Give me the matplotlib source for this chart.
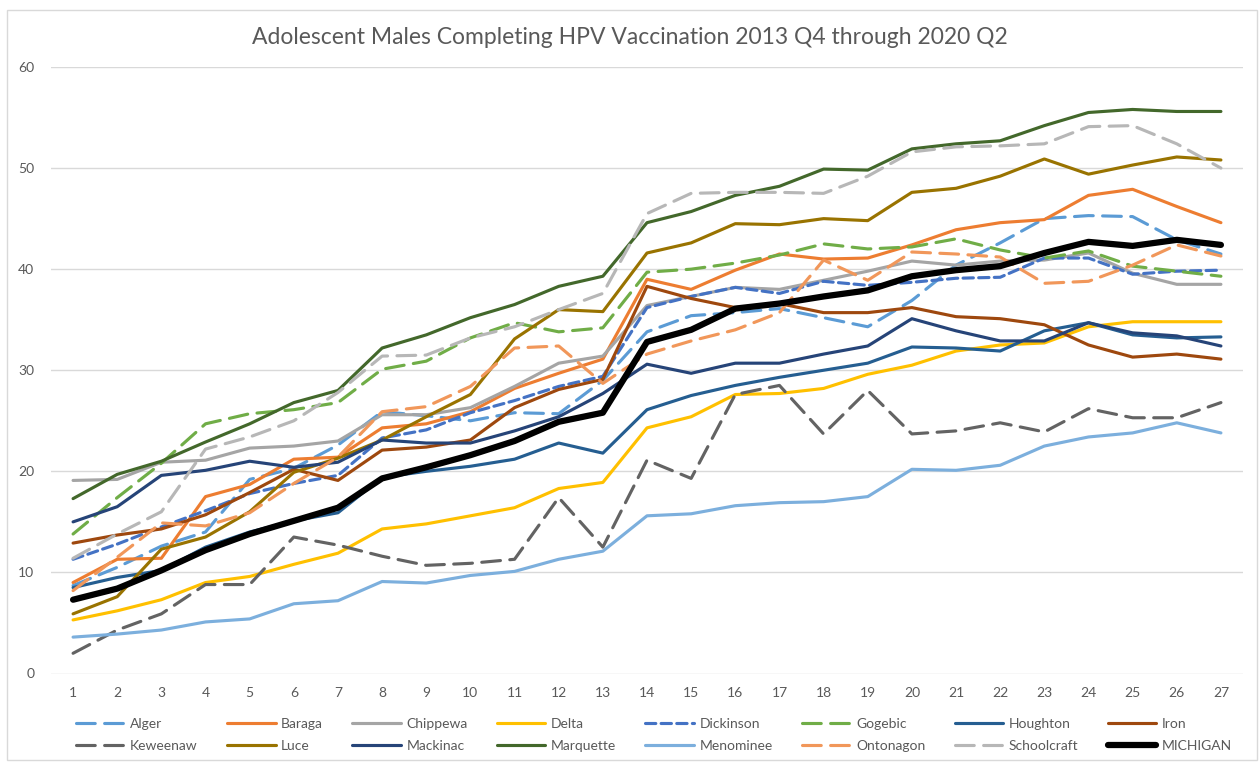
import matplotlib
matplotlib.use("Agg")
from matplotlib import pyplot as plt
from matplotlib.patches import Rectangle

plt.rcParams['font.family'] = ['Lato', 'DejaVu Sans']

quarters = list(range(1, 28))

alger = [8.7, 10.5, 12.6, 14.0, 19.2, 20.3, 22.6, 25.9, 25.5, 25.0, 25.8, 25.7, 29.0, 33.8, 35.4, 35.7, 36.1, 35.2, 34.3, 36.9, 40.4, 42.6, 45.0, 45.3, 45.2, 42.9, 41.5]
baraga = [9.0, 11.3, 11.4, 17.5, 18.7, 21.2, 21.4, 24.3, 24.7, 25.9, 28.2, 29.7, 31.1, 39.0, 38.0, 39.9, 41.5, 41.0, 41.1, 42.4, 43.9, 44.6, 44.9, 47.3, 47.9, 46.2, 44.6]
chippewa = [19.1, 19.2, 20.9, 21.1, 22.3, 22.5, 23.0, 25.6, 25.6, 26.3, 28.4, 30.7, 31.4, 36.4, 37.3, 38.2, 38.0, 38.9, 39.8, 40.8, 40.4, 40.8, 40.9, 41.6, 39.6, 38.5, 38.5]
delta = [5.3, 6.2, 7.3, 9.0, 9.6, 10.8, 11.9, 14.3, 14.8, 15.6, 16.4, 18.3, 18.9, 24.3, 25.4, 27.6, 27.7, 28.2, 29.6, 30.5, 31.9, 32.5, 32.7, 34.3, 34.8, 34.8, 34.8]
dickinson = [11.3, 12.8, 14.5, 16.1, 17.8, 18.8, 19.6, 23.3, 24.1, 25.8, 27.0, 28.4, 29.4, 36.2, 37.3, 38.2, 37.6, 38.8, 38.4, 38.7, 39.1, 39.2, 41.1, 41.1, 39.5, 39.8, 39.9]
gogebic = [13.8, 17.4, 20.8, 24.7, 25.7, 26.1, 26.8, 30.1, 30.9, 33.2, 34.7, 33.8, 34.2, 39.7, 40.0, 40.6, 41.4, 42.5, 42.0, 42.2, 43.0, 41.9, 41.1, 41.8, 40.3, 39.8, 39.3]
houghton = [8.5, 9.5, 10.2, 12.5, 14.0, 15.1, 15.9, 19.4, 20.0, 20.5, 21.2, 22.8, 21.8, 26.1, 27.5, 28.5, 29.3, 30.0, 30.7, 32.3, 32.2, 31.9, 33.9, 34.7, 33.5, 33.2, 33.3]
iron = [12.9, 13.7, 14.3, 15.7, 17.9, 20.2, 19.1, 22.1, 22.4, 23.1, 26.3, 28.1, 29.1, 38.3, 37.1, 36.2, 36.6, 35.7, 35.7, 36.2, 35.3, 35.1, 34.5, 32.5, 31.3, 31.6, 31.1]
keweenaw = [2.0, 4.3, 5.9, 8.8, 8.8, 13.5, 12.7, 11.6, 10.7, 10.9, 11.3, 17.4, 12.5, 21.1, 19.3, 27.6, 28.5, 23.7, 28.0, 23.7, 24.0, 24.8, 23.9, 26.2, 25.3, 25.3, 26.8]
luce = [5.9, 7.6, 12.3, 13.5, 16.0, 19.9, 21.3, 23.1, 25.4, 27.6, 33.1, 36.0, 35.8, 41.6, 42.6, 44.5, 44.4, 45.0, 44.8, 47.6, 48.0, 49.2, 50.9, 49.4, 50.3, 51.1, 50.8]
mackinac = [15.0, 16.5, 19.6, 20.1, 21.0, 20.4, 20.9, 23.1, 22.8, 22.8, 24.0, 25.4, 27.7, 30.6, 29.7, 30.7, 30.7, 31.6, 32.4, 35.1, 33.9, 32.9, 32.9, 34.7, 33.7, 33.4, 32.4]
marquette = [17.3, 19.7, 21.0, 22.9, 24.7, 26.8, 28.0, 32.2, 33.5, 35.2, 36.5, 38.3, 39.3, 44.6, 45.7, 47.3, 48.2, 49.9, 49.8, 51.9, 52.4, 52.7, 54.2, 55.5, 55.8, 55.6, 55.6]
menominee = [3.6, 3.9, 4.3, 5.1, 5.4, 6.9, 7.2, 9.1, 8.95, 9.7, 10.1, 11.3, 12.1, 15.6, 15.8, 16.6, 16.9, 17.0, 17.5, 20.2, 20.1, 20.6, 22.5, 23.4, 23.8, 24.8, 23.8]
ontonagon = [8.2, 11.5, 14.9, 14.6, 15.9, 18.8, 21.4, 25.9, 26.4, 28.4, 32.2, 32.4, 28.7, 31.6, 32.9, 34.0, 35.7, 40.9, 38.9, 41.7, 41.5, 41.2, 38.6, 38.8, 40.4, 42.4, 41.3]
schoolcraft = [11.4, 13.8, 16.0, 22.2, 23.4, 25.0, 27.8, 31.4, 31.5, 33.2, 34.3, 36.0, 37.6, 45.5, 47.5, 47.6, 47.6, 47.5, 49.2, 51.6, 52.1, 52.2, 52.4, 54.1, 54.2, 52.4, 50.0]
michigan = [7.3, 8.4, 10.2, 12.2, 13.8, 15.1, 16.4, 19.3, 20.4, 21.6, 23.0, 24.9, 25.8, 32.8, 34.0, 36.1, 36.6, 37.3, 37.9, 39.3, 39.9, 40.3, 41.6, 42.7, 42.3, 42.9, 42.4]

names = ['Alger', 'Baraga', 'Chippewa', 'Delta', 'Dickinson', 'Gogebic', 'Houghton', 'Iron',
         'Keweenaw', 'Luce', 'Mackinac', 'Marquette', 'Menominee', 'Ontonagon', 'Schoolcraft', 'MICHIGAN']
series = [alger, baraga, chippewa, delta, dickinson, gogebic, houghton, iron,
          keweenaw, luce, mackinac, marquette, menominee, ontonagon, schoolcraft, michigan]
colors = ['#5B9BD5', '#ED7D31', '#A5A5A5', '#FFC000', '#4472C4', '#70AD47', '#255E91', '#9E480E',
          '#636363', '#997300', '#264478', '#43682B', '#7CAFDD', '#F1975A', '#B7B7B7', '#000000']
long_dash = (6, 3)
short_dash = (3.3, 1.7)
dashes = [long_dash, None, None, None, short_dash, long_dash, None, None,
          long_dash, None, None, None, None, long_dash, long_dash, None]

fig = plt.figure(figsize=(12.6, 7.63), dpi=100)
ax = fig.add_axes([51 / 1260, 1 - 673.5 / 763, 1192 / 1260, 606.5 / 763])

handles = []
for name, vals, col, ds in zip(names, series, colors, dashes):
    lw = 4.5 if name == 'MICHIGAN' else 2.25
    line, = ax.plot(quarters, vals, color=col, lw=lw, label=name,
                    solid_capstyle='round', dash_capstyle='round', zorder=3)
    if ds is not None:
        line.set_dashes(ds)
    handles.append(line)

ax.set_xlim(0.5, 27.5)
ax.set_ylim(0, 60)
ax.set_xticks(quarters)
ax.set_yticks(range(0, 61, 10))
ax.grid(axis='y', color='#D9D9D9', lw=1)
ax.set_axisbelow(True)
for s in ax.spines.values():
    s.set_visible(False)
ax.tick_params(length=0, labelsize=10, labelcolor='#595959')
ax.tick_params(axis='y', pad=12)
ax.tick_params(axis='x', pad=10)

fig.suptitle('Adolescent Males Completing HPV Vaccination 2013 Q4 through 2020 Q2',
             y=1 - 37 / 763, va='center', fontsize=16.5, color='#595959')

# legend rows go across, so reorder for column-first filling
order = []
for c in range(8):
    order += [c, c + 8]
leg = fig.legend([handles[i] for i in order], [names[i] for i in order],
                 ncol=8, loc='center', bbox_to_anchor=(0.519, 1 - 735 / 763),
                 frameon=False, fontsize=10, handlelength=3.5, handletextpad=0.4,
                 columnspacing=2.1, labelspacing=0.75)
for t in leg.get_texts():
    t.set_color('#595959')

fig.patches.append(Rectangle((7 / 1260, 3 / 763), 1250 / 1260, 750 / 763,
                             transform=fig.transFigure, fill=False,
                             edgecolor='#D9D9D9', lw=1))

fig.savefig('out.png', dpi=100)
